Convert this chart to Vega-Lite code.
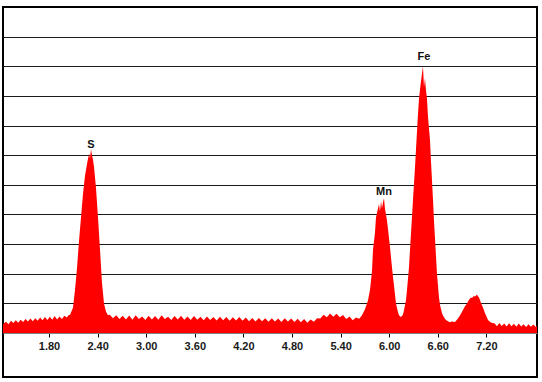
{
  "$schema": "https://vega.github.io/schema/vega-lite/v6.json",
  "width": 534,
  "height": 370,
  "padding": {"left": 3, "top": 7, "right": 5, "bottom": 5},
  "background": "white",
  "config": {
    "view": {"stroke": "#000000", "strokeWidth": 2},
    "font": "Liberation Sans"
  },
  "datasets": {
    "spectrum": [
      {"kev": 1.232, "counts": 0.28}, {"kev": 1.245, "counts": 0.33}, {"kev": 1.27, "counts": 0.38}, {"kev": 1.30, "counts": 0.30},
      {"kev": 1.33, "counts": 0.41}, {"kev": 1.36, "counts": 0.34}, {"kev": 1.39, "counts": 0.43}, {"kev": 1.42, "counts": 0.35},
      {"kev": 1.45, "counts": 0.45}, {"kev": 1.48, "counts": 0.37}, {"kev": 1.51, "counts": 0.47}, {"kev": 1.54, "counts": 0.39},
      {"kev": 1.57, "counts": 0.49}, {"kev": 1.60, "counts": 0.40}, {"kev": 1.63, "counts": 0.50}, {"kev": 1.66, "counts": 0.41},
      {"kev": 1.69, "counts": 0.52}, {"kev": 1.72, "counts": 0.43}, {"kev": 1.75, "counts": 0.54}, {"kev": 1.78, "counts": 0.44},
      {"kev": 1.81, "counts": 0.55}, {"kev": 1.84, "counts": 0.45}, {"kev": 1.87, "counts": 0.57}, {"kev": 1.90, "counts": 0.46},
      {"kev": 1.93, "counts": 0.56}, {"kev": 1.96, "counts": 0.47}, {"kev": 1.99, "counts": 0.58}, {"kev": 2.02, "counts": 0.52},
      {"kev": 2.04, "counts": 0.60}, {"kev": 2.06, "counts": 0.62}, {"kev": 2.096, "counts": 0.85}, {"kev": 2.121, "counts": 1.45},
      {"kev": 2.146, "counts": 2.2}, {"kev": 2.170, "counts": 3.1}, {"kev": 2.195, "counts": 3.9}, {"kev": 2.220, "counts": 4.7},
      {"kev": 2.244, "counts": 5.3}, {"kev": 2.269, "counts": 5.7}, {"kev": 2.294, "counts": 6.05}, {"kev": 2.306, "counts": 5.9},
      {"kev": 2.319, "counts": 6.2}, {"kev": 2.331, "counts": 6.0}, {"kev": 2.343, "counts": 5.85}, {"kev": 2.356, "counts": 5.6},
      {"kev": 2.380, "counts": 4.9}, {"kev": 2.405, "counts": 3.9}, {"kev": 2.430, "counts": 2.8}, {"kev": 2.454, "counts": 1.7},
      {"kev": 2.479, "counts": 1.0}, {"kev": 2.504, "counts": 0.72}, {"kev": 2.528, "counts": 0.6},
      {"kev": 2.55, "counts": 0.62}, {"kev": 2.59, "counts": 0.50}, {"kev": 2.63, "counts": 0.60}, {"kev": 2.67, "counts": 0.47},
      {"kev": 2.71, "counts": 0.58}, {"kev": 2.75, "counts": 0.46}, {"kev": 2.79, "counts": 0.59}, {"kev": 2.83, "counts": 0.45},
      {"kev": 2.87, "counts": 0.60}, {"kev": 2.91, "counts": 0.47}, {"kev": 2.95, "counts": 0.56}, {"kev": 2.99, "counts": 0.44},
      {"kev": 3.03, "counts": 0.58}, {"kev": 3.07, "counts": 0.46}, {"kev": 3.11, "counts": 0.57}, {"kev": 3.15, "counts": 0.45},
      {"kev": 3.19, "counts": 0.60}, {"kev": 3.23, "counts": 0.47}, {"kev": 3.27, "counts": 0.55}, {"kev": 3.31, "counts": 0.44},
      {"kev": 3.35, "counts": 0.57}, {"kev": 3.39, "counts": 0.46}, {"kev": 3.43, "counts": 0.58}, {"kev": 3.47, "counts": 0.45},
      {"kev": 3.51, "counts": 0.56}, {"kev": 3.55, "counts": 0.44}, {"kev": 3.59, "counts": 0.57}, {"kev": 3.63, "counts": 0.45},
      {"kev": 3.67, "counts": 0.55}, {"kev": 3.71, "counts": 0.43}, {"kev": 3.75, "counts": 0.56}, {"kev": 3.79, "counts": 0.44},
      {"kev": 3.83, "counts": 0.54}, {"kev": 3.87, "counts": 0.42}, {"kev": 3.91, "counts": 0.55}, {"kev": 3.95, "counts": 0.43},
      {"kev": 3.99, "counts": 0.54}, {"kev": 4.03, "counts": 0.41}, {"kev": 4.07, "counts": 0.53}, {"kev": 4.11, "counts": 0.42},
      {"kev": 4.15, "counts": 0.54}, {"kev": 4.19, "counts": 0.41}, {"kev": 4.23, "counts": 0.52}, {"kev": 4.27, "counts": 0.40},
      {"kev": 4.31, "counts": 0.51}, {"kev": 4.35, "counts": 0.39}, {"kev": 4.39, "counts": 0.51}, {"kev": 4.43, "counts": 0.40},
      {"kev": 4.47, "counts": 0.50}, {"kev": 4.51, "counts": 0.38}, {"kev": 4.55, "counts": 0.50}, {"kev": 4.59, "counts": 0.39},
      {"kev": 4.63, "counts": 0.49}, {"kev": 4.67, "counts": 0.37}, {"kev": 4.71, "counts": 0.50}, {"kev": 4.75, "counts": 0.39},
      {"kev": 4.79, "counts": 0.49}, {"kev": 4.83, "counts": 0.37}, {"kev": 4.87, "counts": 0.48}, {"kev": 4.91, "counts": 0.36},
      {"kev": 4.95, "counts": 0.47}, {"kev": 4.99, "counts": 0.35}, {"kev": 5.03, "counts": 0.46}, {"kev": 5.07, "counts": 0.38},
      {"kev": 5.11, "counts": 0.50}, {"kev": 5.15, "counts": 0.49}, {"kev": 5.19, "counts": 0.62}, {"kev": 5.23, "counts": 0.53},
      {"kev": 5.27, "counts": 0.66}, {"kev": 5.31, "counts": 0.55}, {"kev": 5.35, "counts": 0.65}, {"kev": 5.39, "counts": 0.53},
      {"kev": 5.43, "counts": 0.61}, {"kev": 5.47, "counts": 0.47}, {"kev": 5.51, "counts": 0.56}, {"kev": 5.55, "counts": 0.43},
      {"kev": 5.59, "counts": 0.52}, {"kev": 5.63, "counts": 0.48}, {"kev": 5.664, "counts": 0.6}, {"kev": 5.701, "counts": 0.8},
      {"kev": 5.738, "counts": 1.1}, {"kev": 5.763, "counts": 1.45}, {"kev": 5.788, "counts": 2.1}, {"kev": 5.800, "counts": 2.8},
      {"kev": 5.825, "counts": 3.4}, {"kev": 5.837, "counts": 3.9}, {"kev": 5.862, "counts": 4.2}, {"kev": 5.874, "counts": 4.35},
      {"kev": 5.886, "counts": 4.1}, {"kev": 5.899, "counts": 4.45}, {"kev": 5.911, "counts": 4.2}, {"kev": 5.923, "counts": 4.4},
      {"kev": 5.936, "counts": 4.55}, {"kev": 5.948, "counts": 4.2}, {"kev": 5.973, "counts": 3.8}, {"kev": 5.998, "counts": 3.2},
      {"kev": 6.010, "counts": 2.9}, {"kev": 6.035, "counts": 2.2}, {"kev": 6.047, "counts": 1.9}, {"kev": 6.072, "counts": 1.3},
      {"kev": 6.084, "counts": 1.0}, {"kev": 6.109, "counts": 0.7}, {"kev": 6.121, "counts": 0.6}, {"kev": 6.146, "counts": 0.54},
      {"kev": 6.170, "counts": 0.62}, {"kev": 6.183, "counts": 0.78}, {"kev": 6.207, "counts": 1.1}, {"kev": 6.220, "counts": 1.45},
      {"kev": 6.244, "counts": 2.2}, {"kev": 6.257, "counts": 2.8}, {"kev": 6.281, "counts": 3.9}, {"kev": 6.294, "counts": 4.5},
      {"kev": 6.319, "counts": 5.6}, {"kev": 6.331, "counts": 6.2}, {"kev": 6.356, "counts": 7.4}, {"kev": 6.368, "counts": 7.9},
      {"kev": 6.380, "counts": 8.2}, {"kev": 6.393, "counts": 8.5}, {"kev": 6.405, "counts": 8.75}, {"kev": 6.417, "counts": 9.0},
      {"kev": 6.430, "counts": 8.3}, {"kev": 6.442, "counts": 8.6}, {"kev": 6.454, "counts": 8.2}, {"kev": 6.467, "counts": 7.9},
      {"kev": 6.479, "counts": 7.3}, {"kev": 6.504, "counts": 6.5}, {"kev": 6.516, "counts": 5.8}, {"kev": 6.541, "counts": 4.5},
      {"kev": 6.553, "counts": 3.8}, {"kev": 6.578, "counts": 2.6}, {"kev": 6.590, "counts": 2.0}, {"kev": 6.615, "counts": 1.2},
      {"kev": 6.627, "counts": 0.95}, {"kev": 6.652, "counts": 0.67}, {"kev": 6.677, "counts": 0.52}, {"kev": 6.701, "counts": 0.44},
      {"kev": 6.726, "counts": 0.40}, {"kev": 6.751, "counts": 0.36}, {"kev": 6.775, "counts": 0.39}, {"kev": 6.812, "counts": 0.37},
      {"kev": 6.837, "counts": 0.45}, {"kev": 6.862, "counts": 0.54}, {"kev": 6.886, "counts": 0.65}, {"kev": 6.911, "counts": 0.78},
      {"kev": 6.936, "counts": 0.9}, {"kev": 6.960, "counts": 1.0}, {"kev": 6.985, "counts": 1.12}, {"kev": 7.010, "counts": 1.2},
      {"kev": 7.022, "counts": 1.18}, {"kev": 7.047, "counts": 1.26}, {"kev": 7.059, "counts": 1.22}, {"kev": 7.084, "counts": 1.3},
      {"kev": 7.096, "counts": 1.24}, {"kev": 7.109, "counts": 1.2}, {"kev": 7.133, "counts": 1.02}, {"kev": 7.146, "counts": 0.94},
      {"kev": 7.170, "counts": 0.78}, {"kev": 7.183, "counts": 0.67}, {"kev": 7.207, "counts": 0.52}, {"kev": 7.220, "counts": 0.44},
      {"kev": 7.244, "counts": 0.38}, {"kev": 7.269, "counts": 0.34}, {"kev": 7.30, "counts": 0.33}, {"kev": 7.33, "counts": 0.23},
      {"kev": 7.36, "counts": 0.34}, {"kev": 7.39, "counts": 0.24}, {"kev": 7.42, "counts": 0.32}, {"kev": 7.45, "counts": 0.22},
      {"kev": 7.48, "counts": 0.33}, {"kev": 7.51, "counts": 0.23}, {"kev": 7.54, "counts": 0.31}, {"kev": 7.57, "counts": 0.21},
      {"kev": 7.60, "counts": 0.32}, {"kev": 7.63, "counts": 0.22}, {"kev": 7.66, "counts": 0.30}, {"kev": 7.69, "counts": 0.20},
      {"kev": 7.72, "counts": 0.30}, {"kev": 7.75, "counts": 0.21}, {"kev": 7.78, "counts": 0.29}, {"kev": 7.81, "counts": 0.20},
      {"kev": 7.825, "counts": 0.25}
    ],
    "peaks": [
      {"element": "S", "kev": 2.319, "pos": 6.34},
      {"element": "Mn", "kev": 5.936, "pos": 4.76},
      {"element": "Fe", "kev": 6.43, "pos": 9.31}
    ]
  },
  "layer": [
    {
      "data": {"name": "spectrum"},
      "mark": {"type": "area", "color": "#ff0000", "clip": true, "interpolate": "linear"},
      "encoding": {
        "x": {
          "field": "kev", "type": "quantitative",
          "scale": {"domain": [1.232, 7.825], "nice": false, "zero": false},
          "axis": {
            "values": [1.8, 2.4, 3.0, 3.6, 4.2, 4.8, 5.4, 6.0, 6.6, 7.2],
            "format": ".2f",
            "title": null,
            "grid": false,
            "offset": -44,
            "domainColor": "#808080",
            "domainWidth": 1,
            "tickColor": "#000000",
            "tickSize": 4,
            "labelFont": "Liberation Sans",
            "labelFontSize": 11,
            "labelFontWeight": "bold",
            "labelColor": "#1a1a1a",
            "labelPadding": 3
          }
        },
        "y": {
          "field": "counts", "type": "quantitative",
          "scale": {"domain": [-1.484, 11], "nice": false, "zero": false},
          "axis": {
            "values": [1, 2, 3, 4, 5, 6, 7, 8, 9, 10],
            "title": null,
            "labels": false,
            "ticks": false,
            "domain": false,
            "grid": true,
            "gridColor": "#1a1a1a",
            "gridWidth": 1,
            "gridOpacity": 1
          }
        },
        "y2": {"datum": 0}
      }
    },
    {
      "data": {"name": "peaks"},
      "mark": {"type": "text", "font": "Liberation Sans", "fontSize": 11, "fontWeight": "bold", "color": "#111111", "baseline": "middle", "align": "center"},
      "encoding": {
        "x": {"field": "kev", "type": "quantitative"},
        "y": {"field": "pos", "type": "quantitative"},
        "text": {"field": "element"}
      }
    }
  ]
}
